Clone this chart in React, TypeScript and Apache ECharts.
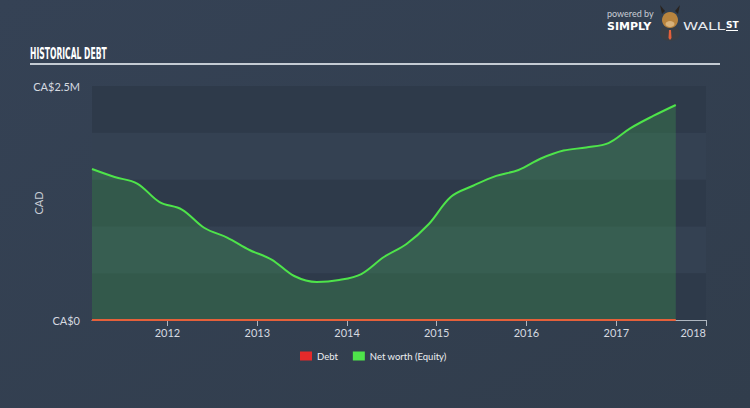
import React, { useEffect, useRef } from "react";
import * as echarts from "echarts";

const dates = [
  "2011-02-28", "2011-05-31", "2011-08-31", "2011-11-30",
  "2012-02-29", "2012-05-31", "2012-08-31", "2012-11-30",
  "2013-02-28", "2013-05-31", "2013-08-31", "2013-11-30",
  "2014-02-28", "2014-05-31", "2014-08-31", "2014-11-30",
  "2015-02-28", "2015-05-31", "2015-08-31", "2015-11-30",
  "2016-02-29", "2016-05-31", "2016-08-31", "2016-11-30",
  "2017-02-28", "2017-05-31", "2017-08-31",
];
const netWorth = [
  1613000, 1528000, 1458000, 1260000,
  1180000, 983000, 881000, 748000,
  646000, 470000, 406000, 427000,
  491000, 673000, 812000, 1026000,
  1317000, 1437000, 1540000, 1603000,
  1725000, 1810000, 1843000, 1890000,
  2050000, 2180000, 2297000,
];
const debt = [
  0, 0, 0, 0, 0, 0, 0, 0, 0, 0, 0, 0, 0, 0,
  0, 0, 0, 0, 0, 0, 0, 0, 0, 0, 0, 0, 0,
];
const yTickLabels: Record<number, string> = { 0: "CA$0", 2500000: "CA$2.5M" };

const FONT = "Lato, 'Open Sans', sans-serif";

export default function App() {
  const ref = useRef<HTMLDivElement>(null);
  useEffect(() => {
    if (!ref.current) return;
    const chart = echarts.init(ref.current, null, { renderer: "svg" });
    const YEAR = 365 * 24 * 3600 * 1000;
    chart.setOption({
      animation: false,
      backgroundColor: {
        type: "linear", x: 0, y: 0, x2: 1, y2: 1,
        colorStops: [
          { offset: 0, color: "#354255" },
          { offset: 1, color: "#313d4c" },
        ],
      },
      textStyle: { fontFamily: FONT },
      grid: { left: 92, right: 44, top: 86, bottom: 88, containLabel: false },
      legend: {
        left: 295, top: 346,
        itemWidth: 12, itemHeight: 9, itemGap: 15,
        icon: "rect",
        textStyle: { color: "#eef0f3", fontSize: 9.5, fontFamily: FONT },
        data: ["Debt", "Net worth (Equity)"],
      },
      xAxis: {
        type: "time",
        min: "2011-02-28",
        max: "2018-01-01",
        minInterval: YEAR,
        maxInterval: YEAR * 1.01,
        axisLine: { show: true, lineStyle: { color: "#aeb6c0", width: 1 } },
        axisTick: { show: true, length: 6, lineStyle: { color: "#aeb6c0" } },
        axisLabel: {
          color: "#d6dae0", fontSize: 11, margin: 7, fontFamily: FONT,
          formatter: "{yyyy}",
          hideOverlap: false,
          showMaxLabel: true,
          alignMaxLabel: "right",
        },
        splitLine: { show: false },
      },
      yAxis: {
        type: "value",
        min: 0,
        max: 2500000,
        interval: 500000,
        name: "CAD",
        nameLocation: "middle",
        nameGap: 48,
        nameMoveOverlap: false,
        nameTextStyle: { color: "#c8cdd4", fontSize: 11, fontFamily: FONT },
        axisLine: { show: false },
        axisTick: { show: false },
        splitLine: { show: false },
        splitArea: { show: true, areaStyle: { color: ["#2e3a4a", "#344152"] } },
        axisLabel: {
          color: "#d6dae0", fontSize: 11, margin: 12, fontFamily: FONT,
          formatter: (v: number) => yTickLabels[v] ?? "",
        },
      },
      series: [
        {
          name: "Net worth (Equity)",
          type: "line",
          data: dates.map((d, i) => [d, netWorth[i]]),
          smooth: 0.35,
          symbol: "none",
          lineStyle: { color: "#4ee44a", width: 2 },
          itemStyle: { color: "#4ee44a" },
          areaStyle: { color: "rgba(64, 160, 80, 0.45)" },
          z: 2,
        },
        {
          name: "Debt",
          type: "line",
          data: dates.map((d, i) => [d, debt[i]]),
          symbol: "none",
          lineStyle: { color: "#e5603a", width: 2 },
          itemStyle: { color: "#e52a2a" },
          z: 3,
        },
      ],
      graphic: [
        {
          type: "text", x: 30, y: 53, scaleX: 0.53,
          style: {
            x: 0, y: 0, text: "HISTORICAL DEBT", fill: "#ffffff",
            verticalAlign: "middle", align: "left",
            font: "bold 16px 'DejaVu Sans Condensed', 'DejaVu Sans', sans-serif",
          },
        },
        {
          type: "rect", shape: { x: 30, y: 63, width: 690, height: 2 },
          style: { fill: "#c4cbd3" },
        },
        {
          type: "text", x: 607, y: 13,
          style: { x: 0, y: 0, verticalAlign: "middle", text: "powered by", fill: "#c9ced6", font: "9px " + FONT },
        },
        {
          type: "text", x: 607, y: 26,
          style: { x: 0, y: 0, verticalAlign: "middle", text: "SIMPLY", fill: "#ffffff", font: "bold 11px 'DejaVu Sans', sans-serif" },
        },
        {
          type: "ellipse", shape: { cx: 670, cy: 33, rx: 10, ry: 8 },
          style: { fill: "#3a3f46" },
        },
        {
          type: "polygon", shape: { points: [[662, 14], [660, 5], [665, 11]] },
          style: { fill: "#2a2420" },
        },
        {
          type: "polygon", shape: { points: [[678, 14], [680, 5], [675, 11]] },
          style: { fill: "#2a2420" },
        },
        {
          type: "circle", shape: { cx: 670, cy: 20, r: 8 },
          style: { fill: "#b9843e" },
        },
        {
          type: "ellipse", shape: { cx: 670, cy: 24, rx: 4.5, ry: 3 },
          style: { fill: "#d9b27a" },
        },
        {
          type: "polygon", shape: { points: [[669, 30], [671, 30], [671.5, 38], [670, 40], [668.5, 38]] },
          style: { fill: "#e5603a" },
        },
        {
          type: "text", x: 683, y: 26, scaleX: 1.4,
          style: { x: 0, y: 0, verticalAlign: "middle", text: "WALL", fill: "#e8ebef", font: "11px 'DejaVu Sans', sans-serif" },
        },
        {
          type: "text", x: 726, y: 25,
          style: { x: 0, y: 0, verticalAlign: "middle", text: "ST", fill: "#ffffff", font: "bold 9px 'DejaVu Sans', sans-serif" },
        },
        {
          type: "rect", shape: { x: 726, y: 30, width: 12, height: 1 },
          style: { fill: "#ffffff" },
        },
      ],
    });
    return () => chart.dispose();
  }, []);
  return <div ref={ref} style={{ width: 750, height: 408, position: "absolute", left: 0, top: 0 }} />;
}
